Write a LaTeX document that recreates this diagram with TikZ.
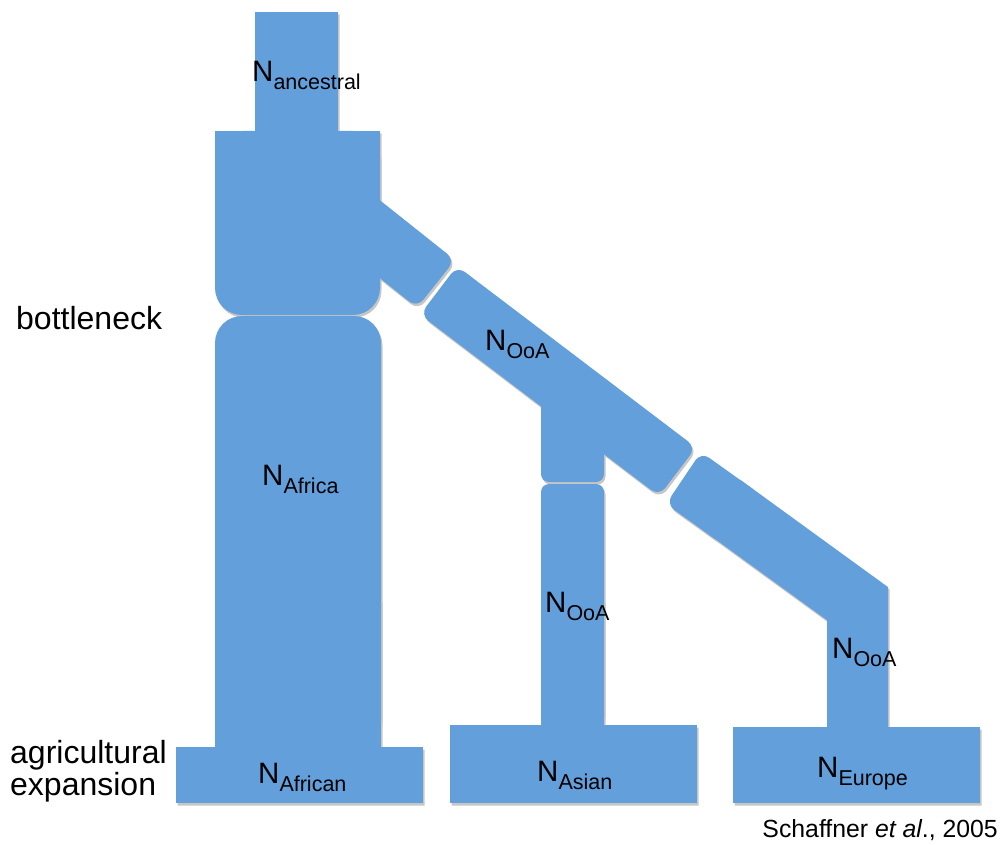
\documentclass[tikz,border=0pt]{standalone}
\usepackage{fontspec}
\setmainfont{Liberation Sans}
\definecolor{popblue}{RGB}{99,159,219}
\newcommand\Nlab[1]{N\raisebox{-8pt}{\fontsize{21.5}{24}\selectfont #1}}
\newcommand\allshapes[1]{%
  % segment 3 (Europe branch)
  \fill[#1,rounded corners=10pt] (701,452) -- (760,494.1) -- (723.1,544.8) -- (666,504) -- cycle;
  \fill[#1] (740,479.6) -- (888,587.1) -- (888,727) -- (827,727) -- (827,620.2) -- (700,528) -- cycle;
  % segment 2
  \fill[#1,rounded corners=10pt] (457,266) -- (696,447.4) -- (659.1,496) -- (420.1,314.6) -- cycle;
  % segment 1
  \fill[#1,rounded corners=10pt] (361.1,185.3) -- (455,260) -- (417,307.7) -- (323.1,233) -- cycle;
  % ancestral
  \fill[#1] (255,12) rectangle (338,131);
  % bottleneck block
  \fill[#1,rounded corners=27pt] (215,131) rectangle (380,315);
  \fill[#1] (215,131) rectangle (380,200);
  % Africa block
  \fill[#1,rounded corners=27pt] (215,316) rectangle (381,747);
  \fill[#1] (215,600) rectangle (381,747);
  % Asian stub and stem
  \fill[#1,rounded corners=8pt] (541,390) rectangle (604,482);
  \fill[#1] (541,390) rectangle (604,450);
  \fill[#1,rounded corners=8pt] (541,484) rectangle (604,725);
  \fill[#1] (541,600) rectangle (604,725);
  % bases
  \fill[#1] (176,747) rectangle (423,803);
  \fill[#1] (450,725) rectangle (697,803);
  \fill[#1] (733,727) rectangle (980,803);
}
\begin{document}
\begin{tikzpicture}[x=1pt,y=-1pt,
  lbl/.style={anchor=base west,inner sep=0pt,font=\fontsize{29.5}{34}\selectfont},
  side/.style={anchor=base west,inner sep=0pt,font=\fontsize{32}{32}\selectfont,align=left},
  cite/.style={anchor=base east,inner sep=0pt,font=\fontsize{24.8}{28}\selectfont}]
\useasboundingbox (0,0) rectangle (1004,845);
\begin{scope}[xshift=1.5pt,yshift=-2.5pt,transparency group,opacity=0.28]
  \allshapes{black!80}
\end{scope}
\allshapes{popblue}
% labels
\node[lbl] (anc) at (252,82) {\Nlab{ancestral}};
\node[lbl] (ooa) at (485,350) {\Nlab{OoA}};
\node[lbl] (afr) at (262,485) {\Nlab{Africa}};
\node[lbl] (ooaas) at (545,612) {\Nlab{OoA}};
\node[lbl] (ooaeu) at (832,658) {\Nlab{OoA}};
\node[lbl] (african) at (258,783) {\Nlab{African}};
\node[lbl] (asian) at (537,781) {\Nlab{Asian}};
\node[lbl] (europe) at (817,777) {\Nlab{Europe}};
\node[side] (bott) at (16,329) {bottleneck};
\node[side] (agri) at (10,763) {agricultural};
\node[side] (expa) at (10,795) {expansion};
\node[cite] (ref) at (998,837) {Schaffner \textit{et al}., 2005};
\end{tikzpicture}
\end{document}
